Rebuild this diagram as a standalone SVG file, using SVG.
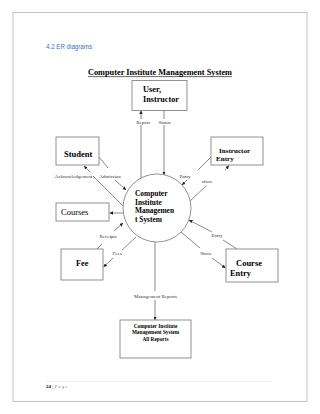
<svg xmlns="http://www.w3.org/2000/svg" width="320" height="414" viewBox="0 0 320 414">
<style>
.box{fill:#fff;stroke:#777;stroke-width:0.8}
.ln{stroke:#555;stroke-width:0.7;fill:none}
.ar{marker-end:url(#ah)}
.b{font-family:"Liberation Serif",serif;font-weight:bold;fill:#000}
.r{font-family:"Liberation Serif",serif;fill:#000}
.lb{font-family:"Liberation Serif",serif;font-size:5px;fill:#333;text-anchor:middle}
</style>
<defs>
<marker id="ah" markerUnits="userSpaceOnUse" markerWidth="3.5" markerHeight="3.5" viewBox="0 0 6 6" refX="6" refY="3" orient="auto">
<path d="M0,0 L6,3 L0,6 z" fill="#222"/>
</marker>
</defs>
<rect x="0" y="0" width="320" height="414" fill="#fff"/>
<rect x="13" y="12.5" width="294" height="389" fill="#fff" stroke="#bbb" stroke-width="0.9"/>
<text x="46" y="48.5" font-family="Liberation Sans, sans-serif" font-size="6.6" fill="#3d6fb2" textLength="46" lengthAdjust="spacingAndGlyphs">4.2 ER diagrams</text>
<text x="88" y="75" class="b" font-size="8.6" textLength="144" lengthAdjust="spacingAndGlyphs">Computer Institute Management System</text>
<line x1="88" y1="76.6" x2="232" y2="76.6" stroke="#000" stroke-width="0.6"/>

<g id="connectors">
<line class="ln" x1="141" y1="178" x2="141" y2="125"/>
<line class="ln ar" x1="141" y1="119" x2="141" y2="110.5"/>
<line class="ln" x1="164" y1="110" x2="164" y2="119"/>
<line class="ln ar" x1="164" y1="125" x2="164" y2="175"/>
<line class="ln" x1="123" y1="206" x2="93" y2="176"/>
<line class="ln ar" x1="90" y1="172" x2="84" y2="166"/>
<line class="ln" x1="99" y1="157" x2="108" y2="168"/>
<line class="ln ar" x1="115" y1="180" x2="126" y2="190"/>
<line class="ln ar" x1="123" y1="213" x2="109.5" y2="213"/>
<line class="ln" x1="97" y1="249" x2="102" y2="244"/>
<line class="ln ar" x1="114" y1="231" x2="123" y2="223"/>
<line class="ln" x1="136" y1="237" x2="122" y2="250"/>
<line class="ln ar" x1="113" y1="258" x2="103.5" y2="267"/>
<line class="ln" x1="155" y1="242" x2="155" y2="291"/>
<line class="ln ar" x1="155" y1="300" x2="155" y2="320"/>
<line class="ln" x1="211" y1="157" x2="198" y2="170"/>
<line class="ln ar" x1="187" y1="180" x2="182" y2="185"/>
<line class="ln" x1="190" y1="201" x2="206" y2="186"/>
<line class="ln ar" x1="225" y1="170" x2="229" y2="165.5"/>
<line class="ln" x1="237" y1="249" x2="223" y2="240"/>
<line class="ln ar" x1="212" y1="232" x2="189" y2="220"/>
<line class="ln" x1="181" y1="232" x2="200" y2="248"/>
<line class="ln ar" x1="212" y1="258" x2="225.5" y2="268"/>
<text class="lb" x="143" y="124">Report</text>
<text class="lb" x="164.5" y="124">Status</text>
<text class="lb" x="73.5" y="178">Acknowledgement</text>
<text class="lb" x="110" y="178">Admission</text>
<text class="lb" x="185" y="177.5">Entry</text>
<text class="lb" x="207" y="182.5">show</text>
<text class="lb" x="108" y="237.5">Receipts</text>
<text class="lb" x="217" y="237">Entry</text>
<text class="lb" x="117" y="254.5">Fees</text>
<text class="lb" x="206" y="254.5">Show</text>
<text class="lb" x="155.5" y="298" font-size="5.6">Management Reports</text>
</g>

<g id="user">
<rect class="box" x="132" y="80.5" width="55" height="30"/>
<text class="b" x="143" y="91.5" font-size="8.4">User,</text>
<text class="b" x="143" y="101.5" font-size="8.2">Instructor</text>
</g>
<g id="system">
<circle cx="157" cy="208" r="34" fill="#fff" stroke="#777" stroke-width="0.8"/>
<text class="b" x="135" y="196" font-size="7.4">Computer</text>
<text class="b" x="135" y="204.6" font-size="7.4">Institute</text>
<text class="b" x="135" y="213.2" font-size="7.4">Managemen</text>
<text class="b" x="135" y="221.8" font-size="7.4">t System</text>
</g>
<g id="student">
<rect class="box" x="56" y="137" width="43" height="28"/>
<text class="b" x="64" y="157" font-size="8.5">Student</text>
</g>
<g id="courses">
<rect class="box" x="56" y="203" width="53" height="18"/>
<text class="r" x="61" y="214.5" font-size="8.5">Courses</text>
</g>
<g id="fee">
<rect class="box" x="61" y="249" width="42" height="31"/>
<text class="b" x="76" y="266" font-size="8.3">Fee</text>
</g>
<g id="instructor-entry">
<rect class="box" x="211" y="137" width="52" height="28"/>
<text class="b" x="219" y="152.5" font-size="7.1">Instructor</text>
<text class="b" x="216" y="161" font-size="7.1">Entry</text>
</g>
<g id="course-entry">
<rect class="box" x="226" y="249" width="52" height="33"/>
<text class="b" x="236" y="266" font-size="8.5">Course</text>
<text class="b" x="230" y="276" font-size="8.4">Entry</text>
</g>
<g id="reports">
<rect class="box" x="120" y="320" width="71" height="38"/>
<text class="b" x="155.5" y="327.5" font-size="5.3" text-anchor="middle">Computer Institute</text>
<text class="b" x="155.5" y="334" font-size="5.3" text-anchor="middle">Management System</text>
<text class="b" x="155.5" y="340.5" font-size="5.3" text-anchor="middle">All Reports</text>
</g>

<line x1="46" y1="381.5" x2="272" y2="381.5" stroke="#ddd" stroke-width="0.5"/>
<text x="46" y="388" font-family="Liberation Serif, serif" font-size="5" font-weight="bold" fill="#000">24<tspan font-weight="normal" fill="#888"> | P a g e</tspan></text>
</svg>
